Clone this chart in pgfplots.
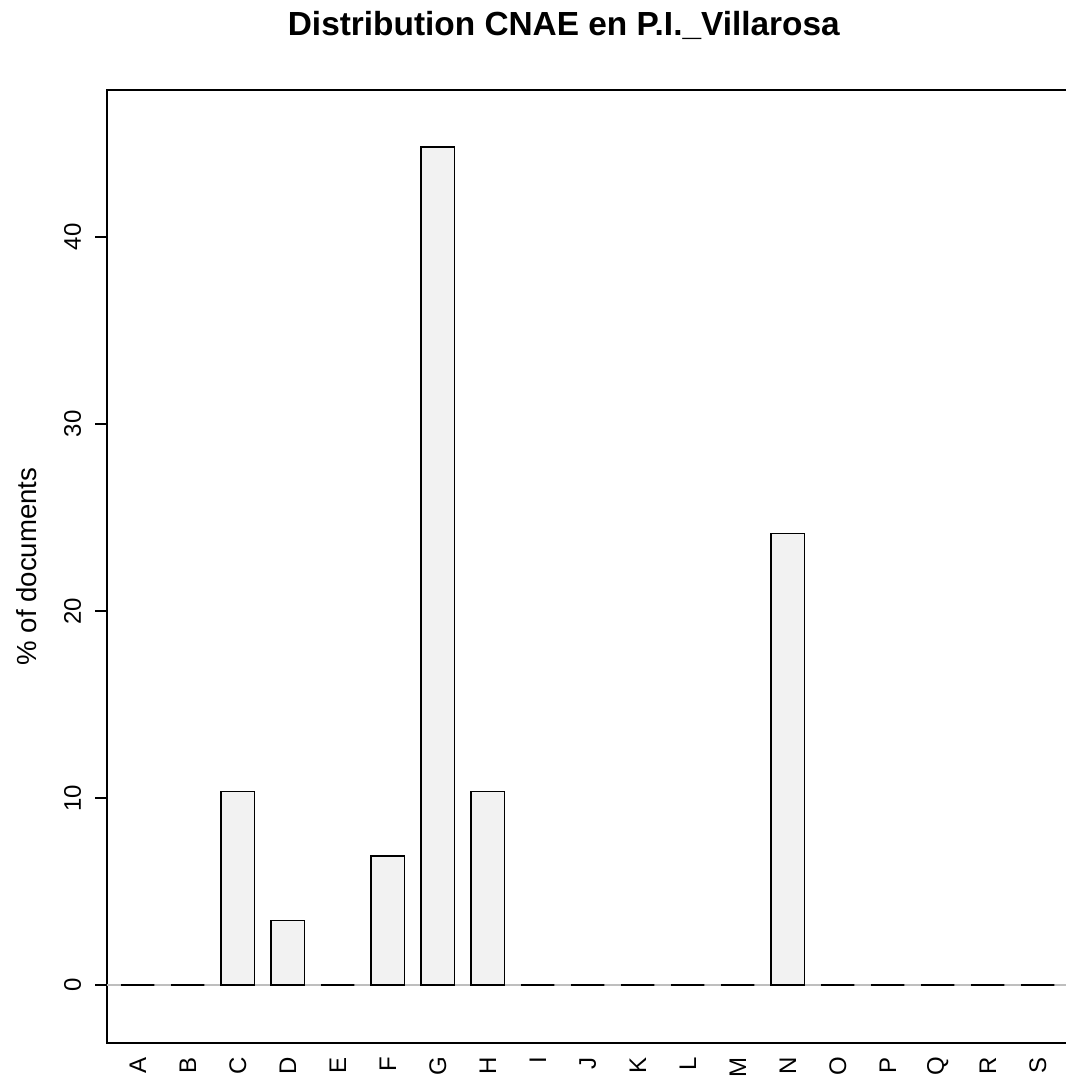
\documentclass[border=0pt]{standalone}
\usepackage{fontspec}
\setmainfont{Liberation Sans}
\usepackage{pgfplots}
\pgfplotsset{compat=1.18}
\definecolor{barfill}{RGB}{242,242,242}
\definecolor{zeroline}{RGB}{190,190,190}
\begin{document}
\begin{tikzpicture}
\begin{axis}[
  at={(53.65pt,17pt)}, anchor=south west,
  scale only axis, width=480.5pt, height=476.5pt,
  xmin=-0.61, xmax=18.61, ymin=-3.1, ymax=47.86,
  axis line style={line width=0.9pt},
  ybar, bar width=0.6667,
  xtick=data,
  xticklabels={A,B,C,D,E,F,G,H,I,J,K,L,M,N,O,P,Q,R,S},
  x tick style={draw=none},
  xticklabel style={rotate=90, anchor=east, font=\fontsize{12}{14}\selectfont},
  xticklabel shift=-2.5pt,
  ytick={0,10,20,30,40},
  y tick style={line width=0.9pt, black},
  tick align=outside, major tick length=6pt,
  yticklabel style={rotate=90, anchor=south, font=\fontsize{12}{14}\selectfont},
  yticklabel shift=3.5pt,
  /pgf/number format/assume math mode=true,
  ylabel={\% of documents},
  ylabel style={at={(axis description cs:-0.0836,0.5)}, rotate=0, anchor=center, font=\fontsize{13.8}{16}\selectfont},
  every axis title shift=0pt,
  title={\bfseries Distribution CNAE en P.I.\_Villarosa},
  title style={at={(axis description cs:0.475,1.068)}, anchor=center, font=\fontsize{16.7}{19}\selectfont},
  clip=false,
]
\addplot[ybar, draw=none, fill=none, forget plot] coordinates {(0,0)};
\draw[zeroline, line width=1pt] (axis cs:-0.61,0) -- (axis cs:18.61,0);
\addplot[draw=black, line width=0.85pt, fill=barfill] coordinates {
(0,0) (1,0) (2,10.345) (3,3.448) (4,0) (5,6.897) (6,44.828) (7,10.345)
(8,0) (9,0) (10,0) (11,0) (12,0) (13,24.138) (14,0) (15,0) (16,0) (17,0) (18,0)
};
\end{axis}
\pgfresetboundingbox
\useasboundingbox (0,0) rectangle (533pt,538.5pt);
\end{tikzpicture}
\end{document}
